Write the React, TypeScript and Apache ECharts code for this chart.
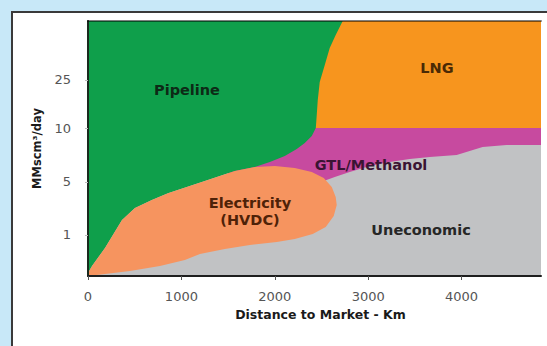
import React, { useEffect, useRef } from "react";
import * as echarts from "echarts";

// Axis data
const xTicks = [0, 1000, 2000, 3000, 4000];
const xMax = 4850;
// y axis is schematic: tick "levels" (position on a 0..10 scale) and their labels
const yTickLevels = [1.61, 3.69, 5.8, 7.69];
const yTickLabels = ["1", "5", "10", "25"];
const yMax = 10;

// Region outlines: [distance km, level]
const uneconomicRegion: number[][] = [
  [0, 0], [4850, 0], [4850, 10], [0, 10],
];
const gtlRegion: number[][] = [
  [1500, 10], [4850, 10], [4850, 5.14], [4481, 5.14], [4225, 5.06], [4086, 4.9],
  [3947, 4.75], [3658, 4.67], [3444, 4.59], [3230, 4.47], [3016, 4.31], [2802, 4.08],
  [2642, 3.88], [2524, 3.73], [2300, 3.5], [1500, 3.5],
];
const lngRegion: number[][] = [
  [2300, 5.8], [4850, 5.8], [4850, 10], [2300, 10],
];
const pipelineRegion: number[][] = [
  [0, 10], [2727, 10], [2652, 9.45], [2588, 8.94], [2535, 8.27], [2481, 7.61],
  [2460, 6.9], [2449, 6.31], [2439, 5.8], [2396, 5.49], [2321, 5.22], [2235, 4.98],
  [2107, 4.71], [1947, 4.47], [1786, 4.27], [1572, 4.12], [1219, 3.69], [856, 3.25],
  [684, 2.98], [503, 2.67], [364, 2.2], [182, 1.1], [43, 0.39], [0, 0.12],
];
const electricityRegion: number[][] = [
  [0, 0], [0, 0.12], [43, 0.39], [182, 1.1], [364, 2.2], [503, 2.67], [684, 2.98],
  [856, 3.25], [1219, 3.69], [1572, 4.12], [1786, 4.27], [2000, 4.31], [2214, 4.24],
  [2396, 4.08], [2524, 3.84], [2610, 3.49], [2652, 3.1], [2663, 2.78], [2631, 2.35],
  [2545, 1.92], [2406, 1.65], [2214, 1.45], [2021, 1.33], [1733, 1.22], [1465, 1.06],
  [1198, 0.86], [1037, 0.63], [770, 0.39], [449, 0.2], [182, 0.08], [0, 0],
];

const regionNames = ["Uneconomic", "GTL/Methanol", "LNG", "Pipeline", "Electricity (HVDC)"];
const regionShapes = [uneconomicRegion, gtlRegion, lngRegion, pipelineRegion, electricityRegion];
const regionColors = ["#c1c2c4", "#c74a9f", "#f7951e", "#0f9f4b", "#f6945f"];

const FONT = "DejaVu Sans";

export default function App() {
  const ref = useRef<HTMLDivElement>(null);
  useEffect(() => {
    if (!ref.current) return;
    const chart = echarts.init(ref.current, null, { renderer: "svg" });

    const series: any[] = regionShapes.map((shape, i) => ({
      type: "custom",
      name: regionNames[i],
      z: 2 + i,
      silent: true,
      data: [[0, 0]],
      renderItem: (_params: any, api: any) => ({
        type: "polygon",
        shape: { points: shape.map((p) => api.coord(p)) },
        style: { fill: regionColors[i], stroke: null },
      }),
    }));

    const textEl = (x: number, y: number, text: string, fill: string) => ({
      type: "text",
      x,
      y,
      z: 100,
      silent: true,
      style: {
        text,
        fill,
        font: `bold 14.5px "${FONT}"`,
        textAlign: "center",
        textVerticalAlign: "middle",
      },
    });

    chart.setOption({
      animation: false,
      backgroundColor: "#c8e8f8",
      grid: { left: 88, right: 6, top: 21, bottom: 70 },
      xAxis: [
        {
          type: "value",
          min: 0,
          max: xMax,
          z: 10,
          name: "Distance to Market - Km",
          nameLocation: "middle",
          nameGap: 31,
          nameTextStyle: {
            fontFamily: FONT,
            fontWeight: "bold",
            fontSize: 12.5,
            color: "#1a1a1a",
            padding: [0, 0, 0, 12],
          },
          axisLine: { show: true, lineStyle: { color: "#1e1e1e", width: 2 } },
          axisTick: { show: true, length: 4, customValues: xTicks, lineStyle: { color: "#555" } },
          axisLabel: {
            customValues: xTicks,
            margin: 14,
            fontFamily: FONT,
            fontSize: 13,
            color: "#555",
            formatter: (v: number) => String(Math.round(v)),
          },
          splitLine: { show: false },
        },
        {
          type: "value",
          position: "top",
          min: 0,
          max: xMax,
          z: 10,
          axisLine: { show: true, lineStyle: { color: "rgba(0,0,0,0.5)", width: 2 } },
          axisTick: { show: false },
          axisLabel: { show: false },
          splitLine: { show: false },
        },
      ],
      yAxis: {
        type: "value",
        min: 0,
        max: yMax,
        z: 10,
        name: "MMscm³/day",
        nameLocation: "middle",
        nameRotate: 90,
        nameGap: 45,
        nameTextStyle: {
          fontFamily: FONT,
          fontWeight: "bold",
          fontSize: 11.5,
          color: "#1a1a1a",
        },
        axisLine: { show: true, lineStyle: { color: "#1a2a1e", width: 2 } },
        axisTick: { show: true, length: 3, customValues: yTickLevels, lineStyle: { color: "#bbb" } },
        axisLabel: {
          customValues: yTickLevels,
          margin: 17,
          fontFamily: FONT,
          fontSize: 13,
          color: "#555",
          formatter: (v: number) => {
            const i = yTickLevels.findIndex((t) => Math.abs(t - v) < 1e-6);
            return i >= 0 ? yTickLabels[i] : "";
          },
        },
        splitLine: { show: false },
      },
      graphic: [
        {
          type: "rect",
          z: -100,
          silent: true,
          shape: { x: 12, y: 12, width: 560, height: 360 },
          style: { fill: "#ffffff", stroke: "#3a3a3a", lineWidth: 2 },
        },
        textEl(187, 90, "Pipeline", "#0d2a16"),
        textEl(437, 68, "LNG", "#4a2a05"),
        textEl(371, 165, "GTL/Methanol", "#3a1433"),
        textEl(250, 203, "Electricity", "#4f2208"),
        textEl(250, 220, "(HVDC)", "#4f2208"),
        textEl(421, 230, "Uneconomic", "#262626"),
      ],
      series,
    });

    return () => chart.dispose();
  }, []);

  return (
    <div
      ref={ref}
      style={{ position: "absolute", left: 0, top: 0, width: 547, height: 346 }}
    />
  );
}
